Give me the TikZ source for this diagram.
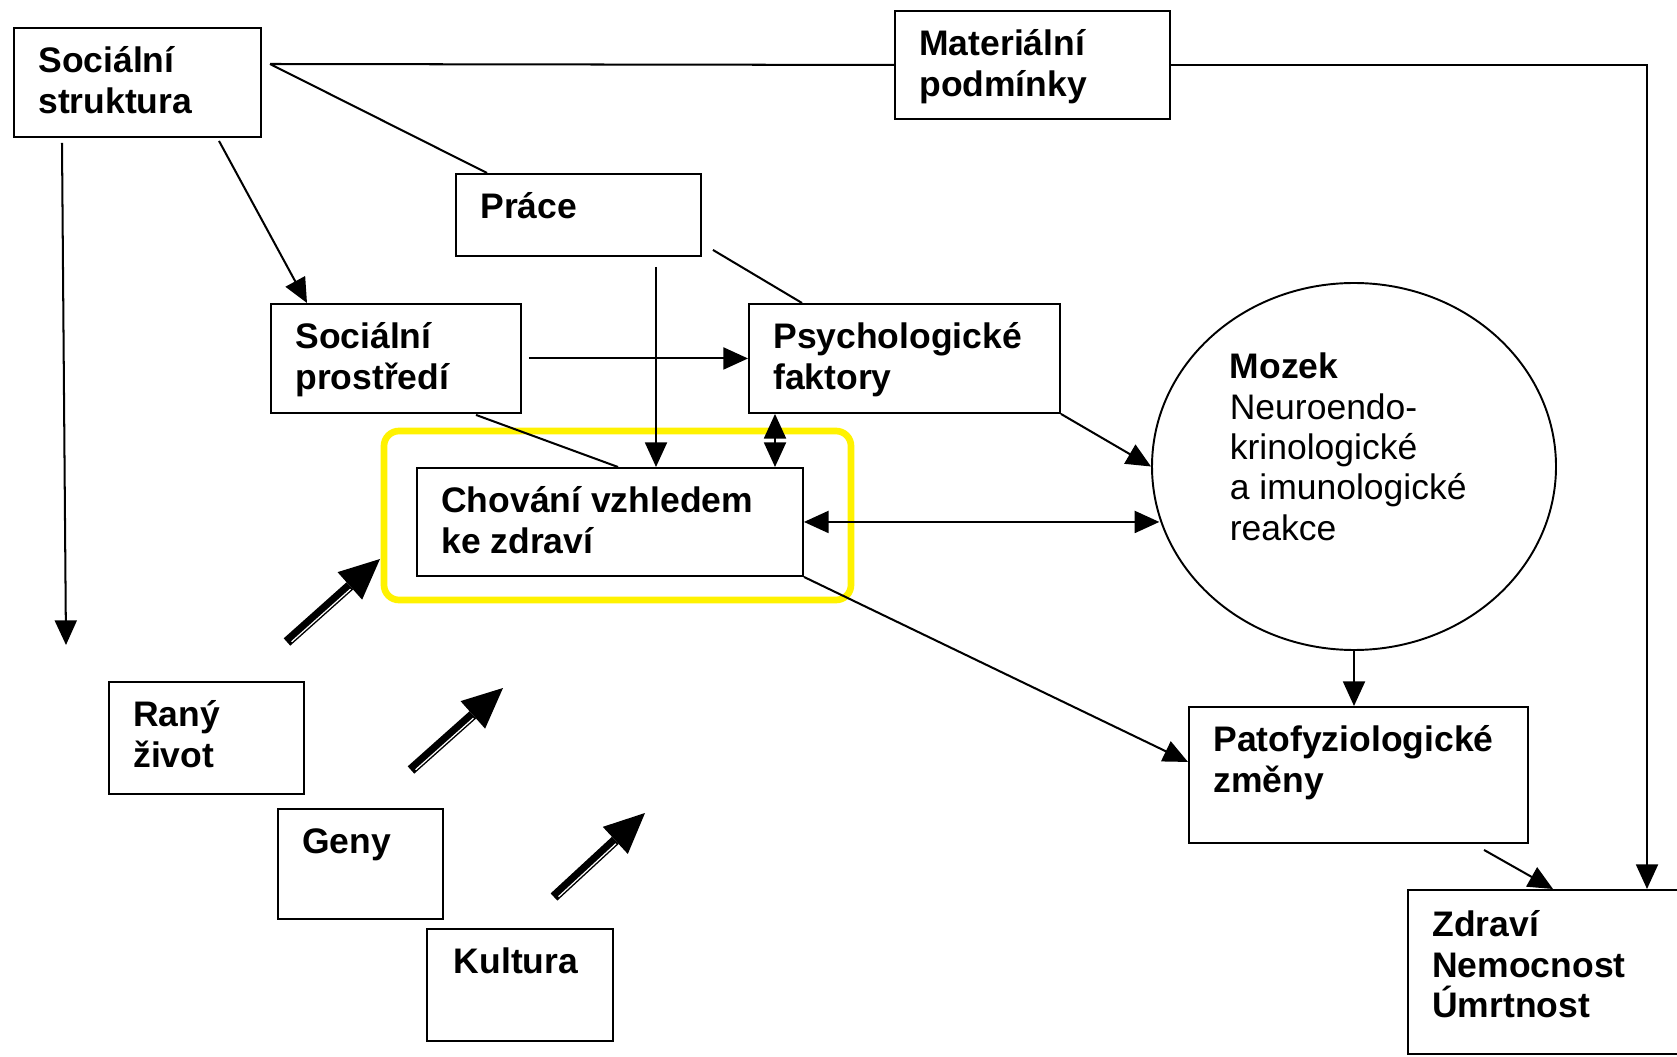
\documentclass[tikz,border=0pt]{standalone}
\usepackage{fontspec}
\setmainfont{Liberation Sans}
\usetikzlibrary{arrows.meta,calc,shapes.geometric}
\def\boxfont{\fontsize{20.2}{23}\selectfont}

\tikzset{
  box/.style={draw, line width=1.1pt, inner sep=0pt, anchor=north west},
  txt/.style={anchor=north west, inner sep=0pt, align=left, font=\boxfont\bfseries},
  link/.style={line width=1.15pt},
  arr/.style={link, -{Triangle[length=14pt,width=12.5pt]}},
  darr/.style={link, {Triangle[length=14pt,width=12.5pt]}-{Triangle[length=14pt,width=12.5pt]}},
  fat/.style={line width=5.6pt, -{Triangle[length=23pt,width=21pt,line width=0pt]}},
  fatgap/.style={white, line width=0.7pt, shorten >=24pt, shorten <=2pt, transform canvas={shift={(1.1pt,-1.2pt)}}},
  hilite/.style={draw=yellow, line width=3.8pt, rounded corners=0.3cm}
}

\begin{document}
\begin{tikzpicture}
		\useasboundingbox (0,0) rectangle (33.54,21.12);
		
		%%%%% boxes %%%%%
		\node[box, minimum width=4.94cm, minimum height=2.18cm] (ss) at (0.26,20.58) {};
		\node[box, minimum width=5.50cm, minimum height=2.16cm] (mat) at (17.88,20.92) {};
		\node[box, minimum width=4.90cm, minimum height=1.64cm] (prace) at (9.10,17.66) {};
		\node[box, minimum width=5.00cm, minimum height=2.18cm] (socp) at (5.40,15.06) {};
		\node[box, minimum width=6.22cm, minimum height=2.18cm] (psych) at (14.96,15.06) {};
		\node[box, minimum width=7.72cm, minimum height=2.16cm] (chov) at (8.32,11.78) {};
		\node[box, minimum width=6.78cm, minimum height=2.72cm] (pato) at (23.76,7.00) {};
		\node[box, minimum width=5.60cm, minimum height=3.28cm] (zdravi) at (28.14,3.34) {};
		\node[box, minimum width=3.90cm, minimum height=2.24cm] (rany) at (2.16,7.50) {};
		\node[box, minimum width=3.30cm, minimum height=2.20cm] (geny) at (5.54,4.96) {};
		\node[box, minimum width=3.72cm, minimum height=2.24cm] (kult) at (8.52,2.56) {};
		\node[draw, ellipse, line width=1.1pt, minimum width=8.08cm, minimum height=7.34cm, inner sep=0pt] (mozek) at (27.08,11.79) {};
		
		\draw[hilite] (7.68,12.50) rectangle (17.02,9.12);
		
		%%%%% texts %%%%%
		\node[txt] (ss-t) at ($(ss.north west)+(0.5,-0.34)$) {\strut Sociální\\struktura};
		\node[txt] (mat-t) at ($(mat.north west)+(0.5,-0.34)$) {\strut Materiální\\podmínky};
		\node[txt] (prace-t) at ($(prace.north west)+(0.5,-0.34)$) {\strut Práce};
		\node[txt] (socp-t) at ($(socp.north west)+(0.5,-0.34)$) {\strut Sociální\\prostředí};
		\node[txt] (psych-t) at ($(psych.north west)+(0.5,-0.34)$) {\strut Psychologické\\faktory};
		\node[txt] (chov-t) at ($(chov.north west)+(0.5,-0.34)$) {\strut Chování vzhledem\\ke zdraví};
		\node[txt] (pato-t) at ($(pato.north west)+(0.5,-0.34)$) {\strut Patofyziologické\\změny};
		\node[txt] (zdravi-t) at ($(zdravi.north west)+(0.5,-0.38)$) {\strut Zdraví\\Nemocnost\\Úmrtnost};
		\node[txt] (rany-t) at ($(rany.north west)+(0.5,-0.34)$) {\strut Raný\\život};
		\node[txt] (geny-t) at ($(geny.north west)+(0.5,-0.34)$) {\strut Geny};
		\node[txt] (kult-t) at ($(kult.north west)+(0.55,-0.34)$) {\strut Kultura};
		\node[txt, font=\boxfont] (mozek-t) at (24.59,14.12) {\strut\textbf{Mozek}\\Neuroendo-\\krinologické\\a imunologické\\reakce};
		
		%%%%% connectors %%%%%
		\coordinate (ssout) at (5.40,19.84);
		\coordinate (ssend) at (1.32,8.22);
		\draw[link] (ssout) -- (mat.west);
		\draw[arr] (mat.east) -| ($(zdravi.north west)+(4.80,0)$);
		\draw[link] (ssout) -- ($(prace.north west)+(0.64,0)$);
		\draw[arr] ($(ss.south west)+(4.12,-0.06)$) -- ($(socp.north west)+(0.74,0)$);
		\draw[arr] ($(ss.south west)+(0.98,-0.10)$) -- (ssend);
		\draw[link] ($(prace.south east)+(0.22,0.14)$) -- ($(psych.north west)+(1.08,0)$);
		\draw[arr] ($(prace.south west)+(4.02,-0.20)$) coordinate (pdown) -- (pdown |- chov.north);
		\draw[arr] ($(socp.east)+(0.14,0)$) -- (psych.west);
		\draw[link] ($(socp.south west)+(4.12,-0.02)$) -- ($(chov.north west)+(4.04,0)$);
		\draw[darr] ($(psych.south west)+(0.54,0)$) coordinate (pup) -- (pup |- chov.north);
		\draw[arr] (psych.south east) -- (mozek.west);
		\draw[darr] (chov.east) -- (chov.east -| mozek.195);
		\draw[arr] (mozek.south) -- (mozek.south |- pato.north);
		\draw[arr] (chov.south east) -- ($(pato.west)+(0,0.26)$);
		\draw[arr] ($(pato.south west)+(5.92,-0.12)$) -- ($(zdravi.north west)+(2.92,0)$);
		
		%%%%% fat arrows %%%%%
		\coordinate (fa1) at (5.74,8.28);   \coordinate (fb1) at (7.60,9.94);
		\coordinate (fa2) at (8.22,5.72);   \coordinate (fb2) at (10.06,7.36);
		\coordinate (fa3) at (11.08,3.18);  \coordinate (fb3) at (12.90,4.86);
		\draw[fat] (fa1) -- (fb1);
		\draw[fatgap] (fa1) -- (fb1);
		\draw[fat] (fa2) -- (fb2);
		\draw[fatgap] (fa2) -- (fb2);
		\draw[fat] (fa3) -- (fb3);
		\draw[fatgap] (fa3) -- (fb3);
	\end{tikzpicture}
\end{document}
